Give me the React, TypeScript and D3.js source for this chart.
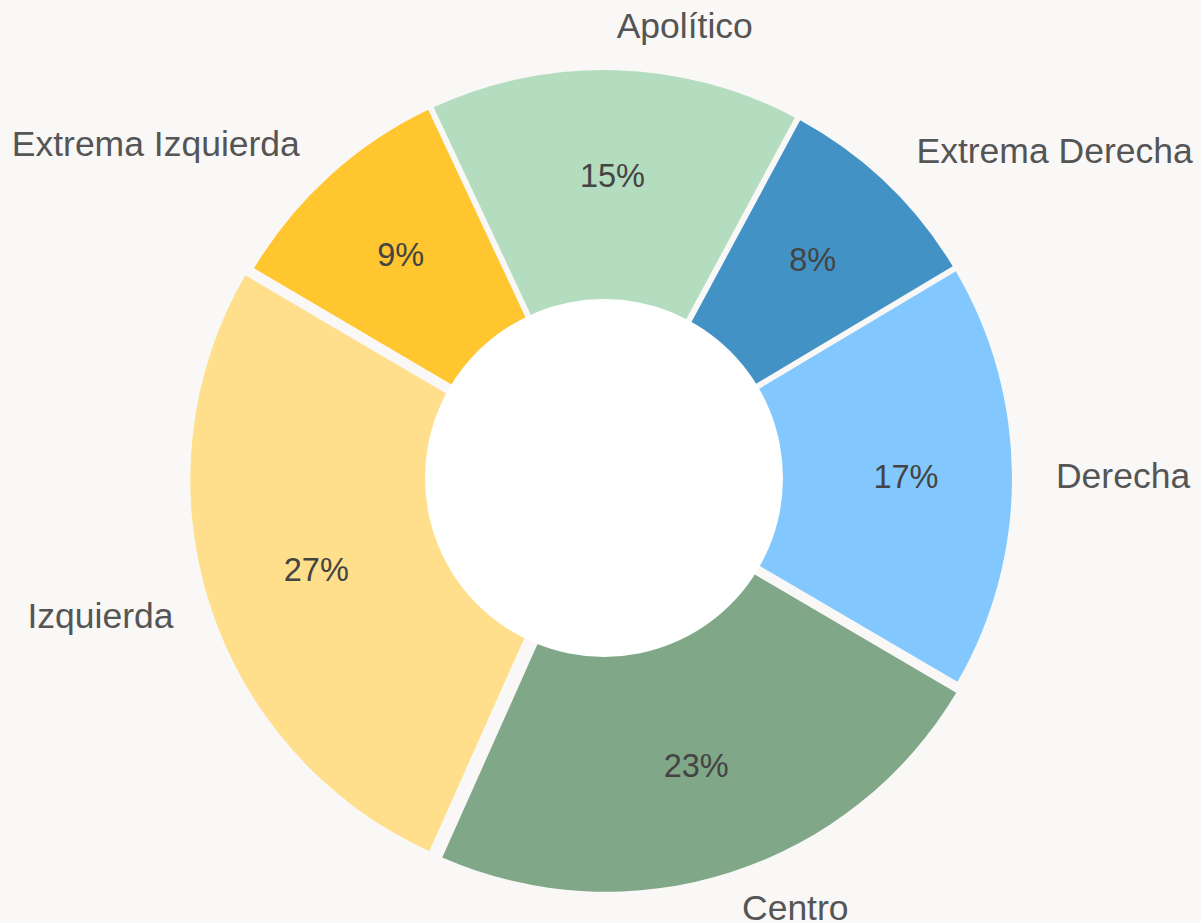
import React, { useEffect } from "react";
import * as d3 from "d3";

const categories = ["Apolítico", "Extrema Derecha", "Derecha", "Centro", "Izquierda", "Extrema Izquierda"];
const values = [14.8, 8.45, 17.0, 23.3, 26.9, 9.45];
const colors = ["#b4ddbf", "#4292c6", "#82c8fe", "#80a787", "#ffdf8c", "#ffc630"];
const exploded = [false, false, false, true, true, false];

const W = 1201;
const H = 923;
const CX = 604;
const CY = 478;
const R_OUT = 408;
const R_IN = 179;
const BG = "#f9f8f7";

export default function App() {
  useEffect(() => {
    document.body.style.margin = "0";
    document.body.style.background = BG;
  }, []);

  const pie = d3
    .pie<number>()
    .sort(null)
    .startAngle((-25.1 * Math.PI) / 180)
    .endAngle((-25.1 * Math.PI) / 180 + 2 * Math.PI)
    .padAngle(0.0135)(values);

  const arc = d3.arc<d3.PieArcDatum<number>>().innerRadius(R_IN - 8).outerRadius(R_OUT);

  const pctR = 302;
  const lblR = 452;
  const font = "'Liberation Sans', Arial, sans-serif";

  return (
    <svg width={W} height={H} style={{ display: "block", background: BG }}>
      <rect x={0} y={0} width={W} height={H} fill={BG} />
      <g transform={`translate(${CX},${CY})`}>
        {pie.map((d, i) => {
          const mid = (d.startAngle + d.endAngle) / 2;
          const off = exploded[i] ? 6 : 0;
          const ox = off * Math.sin(mid);
          const oy = -off * Math.cos(mid);
          return (
            <path
              key={categories[i]}
              d={arc(d) || ""}
              fill={colors[i]}
              transform={`translate(${ox},${oy})`}
            />
          );
        })}
        <circle cx={0} cy={0} r={R_IN} fill="#ffffff" />
        {pie.map((d, i) => {
          const mid = (d.startAngle + d.endAngle) / 2;
          return (
            <text
              key={"p" + i}
              x={pctR * Math.sin(mid)}
              y={-pctR * Math.cos(mid)}
              textAnchor="middle"
              dominantBaseline="central"
              fontFamily={font}
              fontSize={32.5}
              fill="#444444"
            >
              {Math.round(values[i]) + "%"}
            </text>
          );
        })}
        {pie.map((d, i) => {
          const mid = (d.startAngle + d.endAngle) / 2;
          const x = lblR * Math.sin(mid);
          return (
            <text
              key={"l" + i}
              x={x}
              y={-lblR * Math.cos(mid)}
              textAnchor={x >= -1 ? "start" : "end"}
              dominantBaseline="central"
              fontFamily={font}
              fontSize={35.5}
              fill="#555555"
            >
              {categories[i]}
            </text>
          );
        })}
      </g>
    </svg>
  );
}
